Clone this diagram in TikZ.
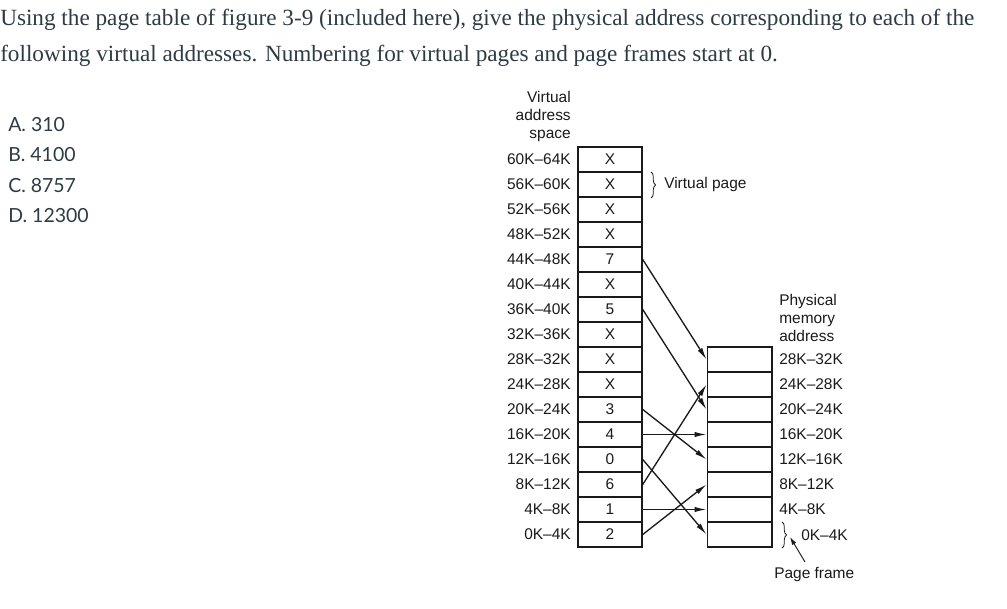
\documentclass[tikz,border=0pt]{standalone}
\usepackage{fontspec}
\setmainfont{Liberation Serif}
\newfontfamily\diag{Liberation Sans}
\newfontfamily\lato{Lato}
\usetikzlibrary{arrows.meta,decorations.pathreplacing}
\definecolor{canvas}{HTML}{2D3B45}
\definecolor{ink}{HTML}{1A1A1A}
\begin{document}
\begin{tikzpicture}[x=0.75pt,y=-0.75pt,
  dfont/.style={font=\diag\fontsize{11.6}{13.5}\selectfont, text=ink},
  cell/.style={dfont, draw=ink, line width=1.1pt, minimum width=48pt, minimum height=18.75pt, inner sep=0pt},
  lab/.style={dfont, inner sep=0pt},
  arr/.style={-{Latex[length=9pt,width=4pt]}, line width=1pt, draw=ink},
  brc/.style={decorate, decoration={brace, amplitude=3.5pt}, line width=0.6pt, draw=ink},
  title/.style={anchor=base west, inner sep=0pt, font=\fontsize{17.4}{27}\selectfont, text=canvas},
  item/.style={anchor=base west, inner sep=0pt, font=\lato\fontsize{14.6}{16}\selectfont, text=canvas}]
\useasboundingbox (0,0) rectangle (1007,609);
% question text
\node[title] (t1) at (0,26) {Using the page table of figure 3-9 (included here), give the physical address corresponding to each of the};
\node[title] (t2) at (0,61.5) {following virtual addresses. Numbering for virtual pages and page frames start at 0.};
\node[item] (ia) at (8,131.5) {A. 310};
\node[item] (ib) at (8,162) {B. 4100};
\node[item] (ic) at (8,192.5) {C. 8757};
\node[item] (id) at (8,222.5) {D. 12300};
% virtual address space
\node[lab, anchor=east, align=right] (vhead) at (571,117) {Virtual\\address\\space};
\foreach \v [count=\n from 0] in {2,1,6,0,4,3,X,X,X,5,X,7,X,X,X,X} {
  \pgfmathtruncatemacro\lo{4*\n}
  \pgfmathtruncatemacro\hi{4*\n+4}
  \node[cell] (v\n) at (610,534.5-25*\n) {\v};
  \node[lab, anchor=east] (vl\n) at (571,534.5-25*\n) {\lo K–\hi K};
}
% physical memory
\node[lab, anchor=west, align=left] (phead) at (779,318) {Physical\\memory\\address};
\foreach \n in {0,...,7} {
  \node[cell, minimum width=48.4pt] (p\n) at (739.5,534.5-25*\n) {};
}
\foreach \n in {1,...,7} {
  \pgfmathtruncatemacro\lo{4*\n}
  \pgfmathtruncatemacro\hi{4*\n+4}
  \node[lab, anchor=west] (pl\n) at (779,534.5-25*\n) {\lo K–\hi K};
}
\node[lab, anchor=west] (pl0) at (801,535) {0K–4K};
% mappings
\foreach \a/\b in {11/7,9/5,5/3,4/4,3/0,2/6,1/1,0/2} {
  \draw[arr] (v\a.east) -- (p\b.west);
}
% virtual page brace
\draw[brc] (651,172) -- (651,198);
\node[lab, anchor=west] (vp) at (664,185) {Virtual page};
% page frame brace and pointer
\draw[brc] (782,522) -- (782,548);
\coordinate (pftip) at (790,537);
\node[lab, anchor=base west] (pf) at (774,578) {Page frame};
\coordinate (pfstart) at (805,562);
\draw[-{Latex[length=6pt,width=3.6pt]}, line width=0.7pt, draw=ink] (pfstart) -- (pftip);
\end{tikzpicture}
\end{document}
